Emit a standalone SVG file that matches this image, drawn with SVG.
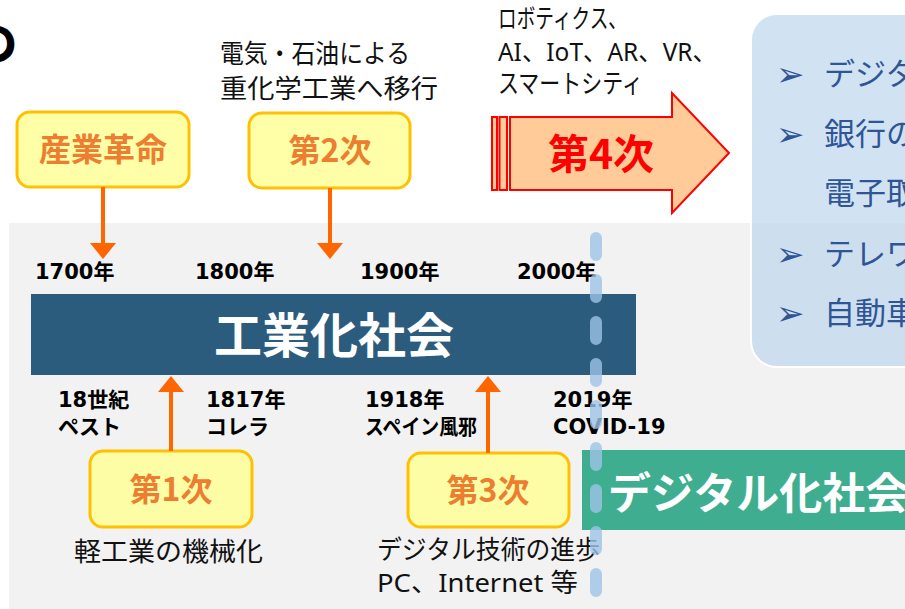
<svg xmlns="http://www.w3.org/2000/svg" width="905" height="609" viewBox="0 0 905 609">
<style>
.jp{font-family:"Noto Sans CJK JP","Noto Sans",sans-serif;}
.lbl{font-family:"DejaVu Sans","Noto Sans CJK JP",sans-serif;font-weight:bold;font-size:21px;fill:#000;}
.note{font-family:"Noto Sans","Noto Sans CJK JP",sans-serif;font-size:26px;fill:#111;}
.ybox{fill:#FFFF99;fill-opacity:0.85;stroke:#FFC000;stroke-width:3;}
.ytxt{font-family:"Noto Sans CJK JP",sans-serif;font-weight:bold;font-size:32px;fill:#ED7D31;text-anchor:middle;}
.btxt{font-family:"Noto Sans CJK JP",sans-serif;font-size:31px;fill:#2F5597;}
.bul{font-family:"DejaVu Sans",sans-serif;font-size:34px;fill:#2F5597;}
.conn{stroke:#FF6600;stroke-width:4;fill:none;}
</style>
<defs>
<marker id="ah" markerUnits="userSpaceOnUse" markerWidth="16" markerHeight="26" refX="0" refY="13" orient="auto" viewBox="0 0 16 26">
<path d="M0,0 L16,13 L0,26 Z" fill="#FF6600"/>
</marker>
</defs>
<rect width="905" height="609" fill="#fff"/>
<text x="-27" y="60" class="jp" font-size="44" font-weight="900" fill="#000">の</text>
<rect id="bg" x="9" y="223" width="896" height="386" fill="#F2F2F2"/>

<g id="future-box">
<rect x="751" y="14" width="190" height="353" rx="26" fill="#BDD7EE" fill-opacity="0.7" stroke="#fff" stroke-width="2"/>
<text x="776" y="86" class="bul">➢</text><text x="824" y="85" class="btxt">デジタ</text>
<text x="776" y="146" class="bul">➢</text><text x="824" y="145" class="btxt">銀行の</text>
<text x="824" y="204" class="btxt">電子取</text>
<text x="776" y="266" class="bul">➢</text><text x="824" y="265" class="btxt">テレワ</text>
<text x="776" y="325" class="bul">➢</text><text x="824" y="324" class="btxt">自動車</text>
</g>

<g id="industrial-bar">
<rect x="31" y="294" width="605" height="81" fill="#2B5C7E"/>
<text x="334" y="353" class="jp" font-size="48" font-weight="bold" fill="#fff" text-anchor="middle">工業化社会</text>
</g>

<g id="digital-bar">
<rect x="582" y="450" width="330" height="80" fill="#3FAE90"/>
<text x="608" y="509" class="jp" font-size="43" font-weight="bold" fill="#fff">デジタル化社会</text>
</g>

<g id="years">
<text x="35" y="279" class="lbl">1700年</text>
<text x="195" y="279" class="lbl">1800年</text>
<text x="360" y="279" class="lbl">1900年</text>
<text x="517" y="279" class="lbl">2000年</text>
</g>

<g id="n-sangyo">
<rect x="17" y="112" width="172" height="75" rx="13" class="ybox"/>
<text x="103" y="161" class="ytxt">産業革命</text>
</g>
<g id="n-2">
<rect x="249" y="113" width="161" height="75" rx="13" class="ybox"/>
<text x="330" y="162" class="ytxt">第2次</text>
</g>
<g id="n-1">
<rect x="90" y="451" width="162" height="76" rx="13" class="ybox"/>
<text x="171" y="501" class="ytxt">第1次</text>
</g>
<g id="n-3">
<rect x="408" y="453" width="161" height="74" rx="13" class="ybox"/>
<text x="488" y="502" class="ytxt">第3次</text>
</g>

<g id="n-4">
<rect x="492" y="117" width="5" height="73" fill="#FFCC99" stroke="#FF0000" stroke-width="2"/>
<rect x="499.5" y="117" width="7.5" height="73" fill="#FFCC99" stroke="#FF0000" stroke-width="2"/>
<path d="M510,117 H672 V93 L729,153 L672,213 V190 H510 Z" fill="#FFCC99" stroke="#FF0000" stroke-width="2" stroke-linejoin="miter"/>
<text x="601" y="169" class="jp" font-size="41" font-weight="bold" fill="#FF0000" text-anchor="middle">第4次</text>
</g>

<g id="notes">
<text class="note"><tspan x="220" y="63" textLength="190" lengthAdjust="spacingAndGlyphs">電気・石油による</tspan><tspan x="220" y="98" textLength="218" lengthAdjust="spacingAndGlyphs">重化学工業へ移行</tspan></text>
<text class="note" font-size="24"><tspan x="498" y="28" textLength="129" lengthAdjust="spacingAndGlyphs">ロボティクス、</tspan><tspan x="498" y="61" textLength="219" lengthAdjust="spacingAndGlyphs">AI、IoT、AR、VR、</tspan><tspan x="498" y="93" textLength="145" lengthAdjust="spacingAndGlyphs">スマートシティ</tspan></text>
<text x="74" y="561" class="note" textLength="189" lengthAdjust="spacingAndGlyphs">軽工業の機械化</text>
<text class="note"><tspan x="377" y="559" textLength="223" lengthAdjust="spacingAndGlyphs">デジタル技術の進歩</tspan><tspan x="377" y="592" textLength="201" lengthAdjust="spacingAndGlyphs">PC、Internet 等</tspan></text>
</g>

<g id="epidemics">
<text class="lbl" font-size="20"><tspan x="58" y="407">18世紀</tspan><tspan x="58" y="434">ペスト</tspan></text>
<text class="lbl" font-size="20"><tspan x="206" y="407">1817年</tspan><tspan x="206" y="434">コレラ</tspan></text>
<text class="lbl" font-size="20"><tspan x="365" y="407">1918年</tspan><tspan x="365" y="434" textLength="112" lengthAdjust="spacingAndGlyphs">スペイン風邪</tspan></text>
<text class="lbl" font-size="21"><tspan x="553" y="407">2019年</tspan><tspan x="553" y="434">COVID-19</tspan></text>
</g>

<g id="connectors">
<line x1="103" y1="187" x2="103" y2="243" class="conn" marker-end="url(#ah)"/>
<line x1="330" y1="188" x2="330" y2="243" class="conn" marker-end="url(#ah)"/>
<line x1="171" y1="451" x2="171" y2="392" class="conn" marker-end="url(#ah)"/>
<line x1="488" y1="453" x2="488" y2="392" class="conn" marker-end="url(#ah)"/>
</g>

<path id="divider" d="M596,238 V597" stroke="#9DC3E6" stroke-opacity="0.8" stroke-width="12" stroke-linecap="round" stroke-dasharray="17 25" fill="none"/>
</svg>
